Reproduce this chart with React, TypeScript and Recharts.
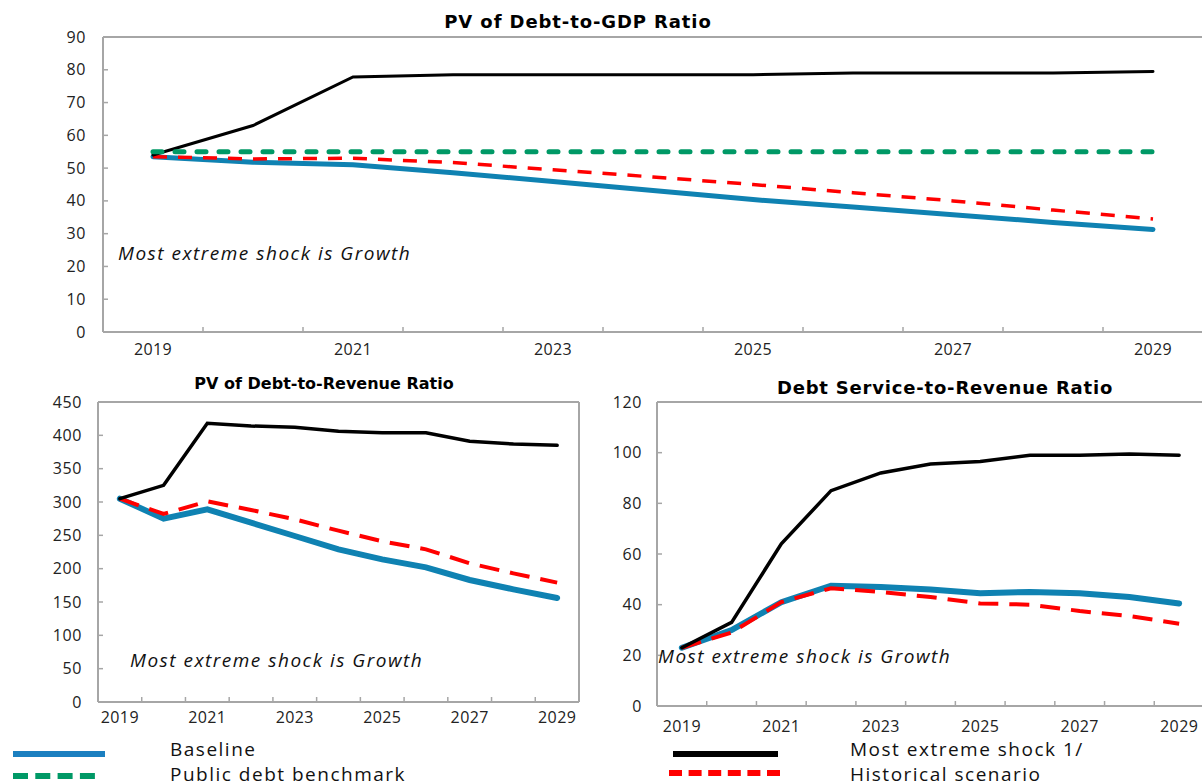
import { LineChart, Line, XAxis, YAxis, ReferenceLine } from 'recharts';

// years shown on every panel
const years = [2019, 2020, 2021, 2022, 2023, 2024, 2025, 2026, 2027, 2028, 2029];

// PV of debt-to-GDP
const gdpBaseline = [53.5, 51.8, 51.0, 48.6, 45.9, 43.2, 40.4, 38.1, 35.8, 33.4, 31.3];
const gdpBenchmark = [55, 55, 55, 55, 55, 55, 55, 55, 55, 55, 55];
const gdpExtreme = [54, 63, 77.8, 78.5, 78.5, 78.5, 78.5, 79, 79, 79, 79.5];
const gdpHistorical = [53.5, 52.8, 53.0, 51.7, 49.5, 47.3, 45.0, 42.5, 40.0, 37.2, 34.5];
const gdpTicks = [0, 10, 20, 30, 40, 50, 60, 70, 80, 90];

// PV of debt-to-revenue
const revBaseline = [305, 275, 289, 269, 249, 229, 214, 202, 183, 169, 156];
const revExtreme = [305, 325, 418, 414, 412, 406, 404, 404, 391, 387, 385];
const revHistorical = [305, 282, 301, 288, 274, 257, 241, 229, 208, 193, 179];
const revTicks = [0, 50, 100, 150, 200, 250, 300, 350, 400, 450];

// debt service-to-revenue
const dsBaseline = [23, 30, 41, 47.5, 47, 46, 44.5, 45, 44.5, 43, 40.5];
const dsExtreme = [23, 33, 64, 85, 92, 95.5, 96.5, 99, 99, 99.5, 99];
const dsHistorical = [23, 29, 41, 46.5, 45, 43, 40.5, 40, 37.5, 35.5, 32.5];
const dsTicks = [0, 20, 40, 60, 80, 100, 120];

const note = 'Most extreme shock is Growth';

const BLUE = '#0f82b2';
const GREEN = '#009966';
const RED = '#ff0000';
const AXIS = '#a6a6a6';
const FONT = '"Open Sans", "Noto Sans", sans-serif';

const gdpData = years.map((year, i) => ({
  year,
  baseline: gdpBaseline[i],
  benchmark: gdpBenchmark[i],
  extreme: gdpExtreme[i],
  historical: gdpHistorical[i],
}));
const revData = years.map((year, i) => ({
  year,
  baseline: revBaseline[i],
  extreme: revExtreme[i],
  historical: revHistorical[i],
}));
const dsData = years.map((year, i) => ({
  year,
  baseline: dsBaseline[i],
  extreme: dsExtreme[i],
  historical: dsHistorical[i],
}));

// labels on the years, tick marks between them (excel style)
const xTicks = years.flatMap((y) => (y < 2029 ? [y, y + 0.5] : [y]));
const xDomain = [years[0] - 0.5, years[years.length - 1] + 0.5];

const makeXTick = (margin: number) => (props: any) => {
  const { x, y, payload } = props;
  const v = payload.value;
  if (v % 1 !== 0) {
    const ay = y - margin;
    return <line x1={x} x2={x} y1={ay} y2={ay - 5} stroke={AXIS} strokeWidth={1.5} />;
  }
  if ((v - years[0]) % 2 !== 0) return <g />;
  return (
    <text x={x} y={y} dy="0.71em" textAnchor="middle" fontSize={16} letterSpacing={0.4} fill="#222" fontFamily={FONT}>
      {v}
    </text>
  );
};

const makeYTick = (margin: number) => (props: any) => {
  const { x, y, payload } = props;
  const ax = x + margin;
  return (
    <g>
      <line x1={ax} x2={ax + 5} y1={y} y2={y} stroke={AXIS} strokeWidth={1.5} />
      <text x={x} y={y} dy="0.35em" textAnchor="end" fontSize={16} letterSpacing={0.6} fill="#222" fontFamily={FONT}>
        {payload.value}
      </text>
    </g>
  );
};

const Title = ({ text, cx, cy, size = 18, spacing = 0.9 }: { text: string; cx: number; cy: number; size?: number; spacing?: number }) => (
  <div
    style={{
      position: 'absolute',
      left: cx - 250,
      width: 500,
      top: cy - 11,
      textAlign: 'center',
      fontFamily: '"DejaVu Sans", sans-serif',
      fontWeight: 'bold',
      fontSize: size,
      letterSpacing: spacing,
      lineHeight: '22px',
      color: '#000',
    }}
  >
    {text}
  </div>
);

const Note = ({ x, cy }: { x: number; cy: number }) => (
  <div
    style={{
      position: 'absolute',
      left: x,
      top: cy - 12,
      fontFamily: FONT,
      fontStyle: 'italic',
      fontSize: 19,
      letterSpacing: 1.5,
      lineHeight: '24px',
      color: '#111',
      whiteSpace: 'nowrap',
    }}
  >
    {note}
  </div>
);

const LegendText = ({ text, x, cy }: { text: string; x: number; cy: number }) => (
  <div
    style={{
      position: 'absolute',
      left: x,
      top: cy - 12,
      fontFamily: FONT,
      fontSize: 19,
      lineHeight: '24px',
      letterSpacing: 1.5,
      color: '#111',
      whiteSpace: 'nowrap',
    }}
  >
    {text}
  </div>
);

export default function App() {
  return (
    <div
      style={{
        position: 'absolute',
        left: 0,
        top: 0,
        width: 1202,
        height: 782,
        overflow: 'hidden',
        background: '#fff',
      }}
    >
      <Title text="PV of Debt-to-GDP Ratio" cx={578} cy={22} />
      <div style={{ position: 'absolute', left: 0, top: 0 }}>
        <LineChart width={1210} height={370} data={gdpData} margin={{ top: 37, right: 7, bottom: 0, left: 0 }}>
          <XAxis
            dataKey="year"
            type="number"
            domain={xDomain}
            ticks={xTicks}
            interval={0}
            height={38}
            tickSize={0}
            tickMargin={12}
            tick={makeXTick(12)}
            axisLine={{ stroke: AXIS, strokeWidth: 2 }}
            tickLine={false}
          />
          <YAxis
            type="number"
            domain={[0, 90]}
            ticks={gdpTicks}
            interval={0}
            width={103}
            tickSize={0}
            tickMargin={17}
            tick={makeYTick(17)}
            axisLine={{ stroke: AXIS, strokeWidth: 2 }}
            tickLine={false}
          />
          <ReferenceLine y={90} stroke={AXIS} strokeWidth={2} />
          <ReferenceLine x={xDomain[1]} stroke={AXIS} strokeWidth={2} />
          <Line dataKey="baseline" stroke={BLUE} strokeWidth={5} dot={false} strokeLinecap="round" isAnimationActive={false} />
          <Line dataKey="historical" stroke={RED} strokeWidth={3.5} strokeDasharray="14 11" dot={false} isAnimationActive={false} />
          <Line dataKey="extreme" stroke="#000" strokeWidth={3} dot={false} strokeLinecap="round" isAnimationActive={false} />
          <Line dataKey="benchmark" stroke={GREEN} strokeWidth={5} strokeDasharray="9 13" strokeLinecap="round" dot={false} isAnimationActive={false} />
        </LineChart>
      </div>
      <Note x={118} cy={253} />

      <Title text="PV of Debt-to-Revenue Ratio" cx={324} cy={384} size={16} spacing={0} />
      <div style={{ position: 'absolute', left: 0, top: 370 }}>
        <LineChart width={600} height={370} data={revData} margin={{ top: 32, right: 21, bottom: 0, left: 0 }}>
          <XAxis
            dataKey="year"
            type="number"
            domain={xDomain}
            ticks={xTicks}
            interval={0}
            height={38}
            tickSize={0}
            tickMargin={10}
            tick={makeXTick(10)}
            axisLine={{ stroke: AXIS, strokeWidth: 2 }}
            tickLine={false}
          />
          <YAxis
            type="number"
            domain={[0, 450]}
            ticks={revTicks}
            interval={0}
            width={98}
            tickSize={0}
            tickMargin={16}
            tick={makeYTick(16)}
            axisLine={{ stroke: AXIS, strokeWidth: 2 }}
            tickLine={false}
          />
          <ReferenceLine y={450} stroke={AXIS} strokeWidth={2} />
          <ReferenceLine x={xDomain[1]} stroke={AXIS} strokeWidth={2} />
          <Line dataKey="baseline" stroke={BLUE} strokeWidth={6} dot={false} strokeLinecap="round" isAnimationActive={false} />
          <Line dataKey="historical" stroke={RED} strokeWidth={4} strokeDasharray="20 11" dot={false} isAnimationActive={false} />
          <Line dataKey="extreme" stroke="#000" strokeWidth={3.5} dot={false} strokeLinecap="round" isAnimationActive={false} />
        </LineChart>
      </div>
      <Note x={130} cy={660} />

      <Title text="Debt Service-to-Revenue Ratio" cx={945} cy={388} spacing={0.8} />
      <div style={{ position: 'absolute', left: 600, top: 370 }}>
        <LineChart width={610} height={370} data={dsData} margin={{ top: 32, right: 6, bottom: 0, left: 0 }}>
          <XAxis
            dataKey="year"
            type="number"
            domain={xDomain}
            ticks={xTicks}
            interval={0}
            height={34}
            tickSize={0}
            tickMargin={15}
            tick={makeXTick(15)}
            axisLine={{ stroke: AXIS, strokeWidth: 2 }}
            tickLine={false}
          />
          <YAxis
            type="number"
            domain={[0, 120]}
            ticks={dsTicks}
            interval={0}
            width={57}
            tickSize={0}
            tickMargin={15}
            tick={makeYTick(15)}
            axisLine={{ stroke: AXIS, strokeWidth: 2 }}
            tickLine={false}
          />
          <ReferenceLine y={120} stroke={AXIS} strokeWidth={2} />
          <Line dataKey="baseline" stroke={BLUE} strokeWidth={6} dot={false} strokeLinecap="round" isAnimationActive={false} />
          <Line dataKey="historical" stroke={RED} strokeWidth={4} strokeDasharray="20 11" dot={false} isAnimationActive={false} />
          <Line dataKey="extreme" stroke="#000" strokeWidth={3.5} dot={false} strokeLinecap="round" isAnimationActive={false} />
        </LineChart>
      </div>
      <Note x={658} cy={656} />

      <svg width={1202} height={782} style={{ position: 'absolute', left: 0, top: 0, pointerEvents: 'none' }}>
        <line x1={13} x2={105} y1={754} y2={754} stroke="#1b7fc0" strokeWidth={6} />
        <line x1={13} x2={96} y1={776} y2={776} stroke={GREEN} strokeWidth={6} strokeDasharray="15 7.3" />
        <line x1={673} x2={778} y1={754} y2={754} stroke="#000" strokeWidth={6} />
        <line x1={669} x2={780} y1={773} y2={773} stroke={RED} strokeWidth={6} strokeDasharray="13 6.6" />
      </svg>
      <LegendText text="Baseline" x={170} cy={749} />
      <LegendText text="Public debt benchmark" x={170} cy={774} />
      <LegendText text="Most extreme shock 1/" x={850} cy={749} />
      <LegendText text="Historical scenario" x={850} cy={774} />
    </div>
  );
}
